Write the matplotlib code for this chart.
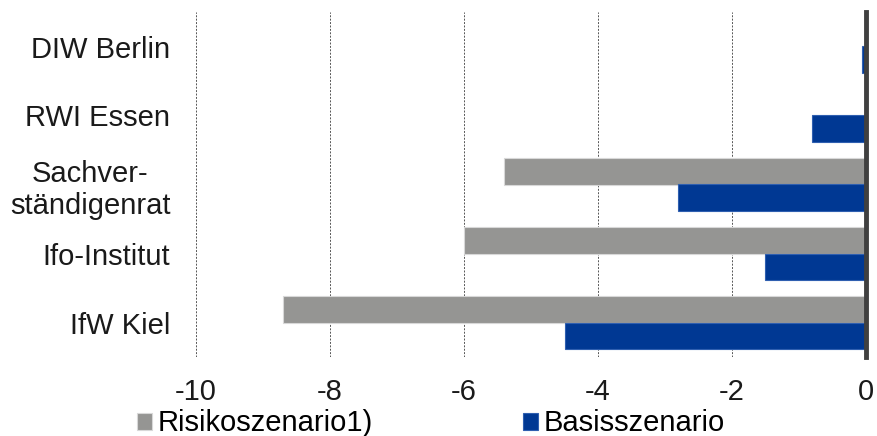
import matplotlib
matplotlib.use('Agg')
import numpy as np
import matplotlib.pyplot as plt

plt.rcParams.update({'font.size': 21, 'font.family': ['Liberation Sans', 'DejaVu Sans']})

# Data
institutes = ['DIW Berlin', 'RWI Essen', 'Sachver-\nständigenrat', 'Ifo-Institut', 'IfW Kiel']
risiko = [np.nan, np.nan, -5.4, -6.0, -8.7]
basis = [-0.06, -0.8, -2.8, -1.5, -4.5]
xticks = [-10, -8, -6, -4, -2, 0]

grey = '#959593'
blue = '#003893'

fig = plt.figure(figsize=(8.78, 4.36), dpi=100)
ax = fig.add_axes([196/878, 1 - 357/436, 670/878, 345/436])

y = np.arange(len(institutes))
h = 0.39
ax.barh(y - h/2, risiko, height=h, color=grey, edgecolor='#d8d8d8', linewidth=0.8, label='Risikoszenario1)')
ax.barh(y + h/2, basis, height=h, color=blue, edgecolor='#2f5fb0', linewidth=0.8, label='Basisszenario')

ax.set_xlim(-10, 0)
ax.set_ylim(len(institutes) - 0.5, -0.5)
ax.set_xticks(xticks)
ax.set_xticklabels([str(v) for v in xticks])
ax.set_yticks(y)
ax.set_yticklabels(institutes)
for lbl in ax.get_yticklabels():
	lbl.set_multialignment('center')
ax.tick_params(axis='both', length=0, labelsize=21, colors='#1a1a1a')
ax.tick_params(axis='x', pad=15)
ax.tick_params(axis='y', pad=18.5)

# Dotted vertical gridlines and dark zero line
for v in xticks[:-1]:
	ax.axvline(v, color='#555555', lw=0.7, ls=(0, (2, 1.5)), zorder=0)
ax.axvline(0, color='#404040', lw=3.5, clip_on=False, zorder=3)

for s in ax.spines.values():
	s.set_visible(False)

fig.legend(loc='lower left', bbox_to_anchor=(125/878, -0.03), ncol=2, frameon=False,
	handlelength=0.52, handleheight=0.52, handletextpad=0.2, columnspacing=5.15,
	fontsize=21, borderaxespad=0)

fig.savefig('out.png', dpi=100)
